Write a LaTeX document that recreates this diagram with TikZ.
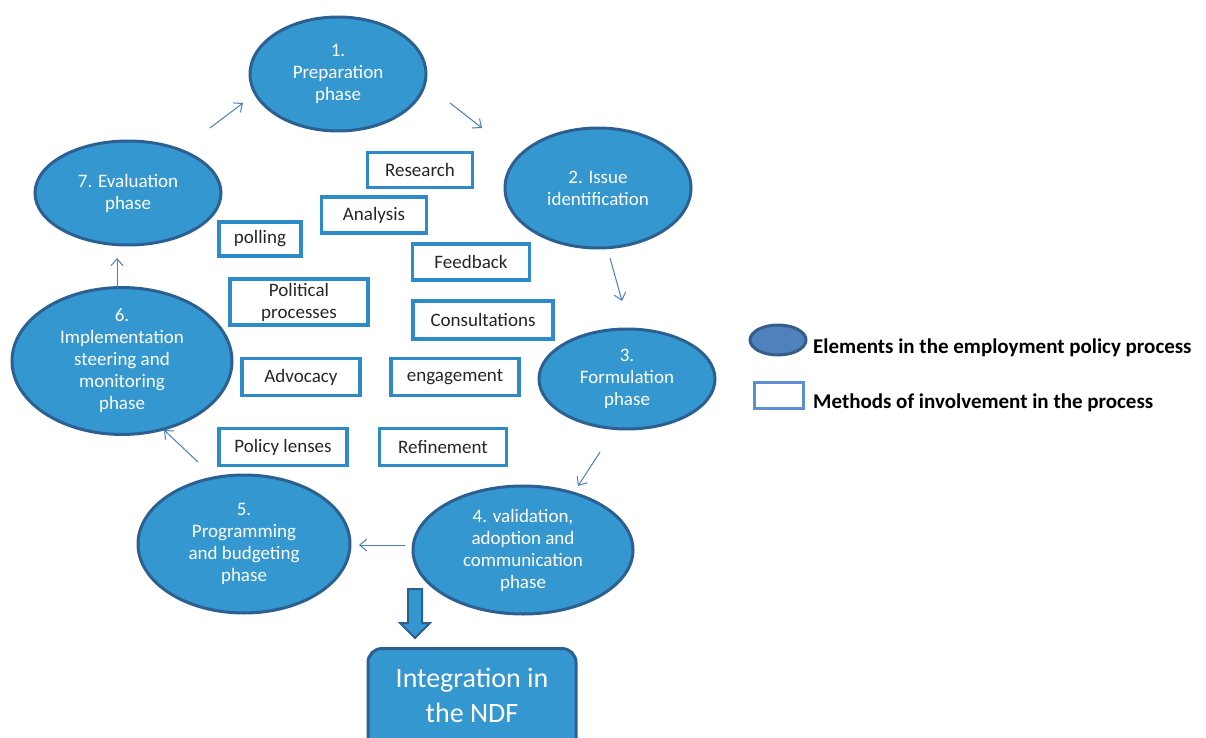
\documentclass[tikz,border=0pt]{standalone}
\usepackage{fontspec}
\setmainfont{Carlito}
\usetikzlibrary{shapes.geometric,arrows.meta}
\definecolor{efill}{RGB}{52,151,207}
\definecolor{edraw}{RGB}{44,95,146}
\definecolor{bdraw}{RGB}{46,139,201}
\definecolor{arrc}{RGB}{74,126,187}
\definecolor{lfill}{RGB}{79,129,189}
\definecolor{ldraw}{RGB}{56,93,138}
\definecolor{lbox}{RGB}{91,143,208}
\tikzset{
  phase/.style={ellipse, fill=efill, draw=edraw, line width=3pt, inner sep=0pt,
    text=white, align=center, font=\fontsize{19}{22}\selectfont},
  method/.style={rectangle, fill=white, draw=bdraw, line width=3.5pt, inner sep=0pt,
    text=black!85, align=center, font=\fontsize{19}{22}\selectfont},
  cyc/.style={draw=arrc, line width=1pt, -{Straight Barb[length=7pt,width=12pt]}},
  legtext/.style={anchor=west, font=\fontsize{21}{24}\selectfont\bfseries, inner sep=0pt}
}
\begin{document}
\begin{tikzpicture}[x=1pt,y=-1pt]
\useasboundingbox (0,0) rectangle (1206,738);
\clip (0,0) rectangle (1206,738);
% phases
\node[phase, minimum width=176, minimum height=114] (e1) at (338,74) {1.\\Preparation\\phase};
\node[phase, minimum width=186, minimum height=120] (e2) at (598,188) {2. Issue\\identification};
\node[phase, minimum width=176, minimum height=100] (e3) at (627,379) {3.\\Formulation\\phase};
\node[phase, minimum width=220, minimum height=128] (e4) at (523,550) {4. validation,\\adoption and\\communication\\phase};
\node[phase, minimum width=212, minimum height=138] (e5) at (244,544) {5.\\Programming\\and budgeting\\phase};
\node[phase, minimum width=220, minimum height=116] (e6) at (122,361) {6.\\Implementation\\steering and\\monitoring\\phase};
\node[phase, minimum width=186, minimum height=104] (e7) at (128,193) {7. Evaluation\\phase};
% methods
\node[method, minimum width=105, minimum height=35] (m1) at (420,170) {Research};
\node[method, minimum width=105, minimum height=36] (m2) at (374,215) {Analysis};
\node[method, minimum width=82, minimum height=34] (m3) at (260,239) {polling};
\node[method, minimum width=117, minimum height=36] (m4) at (471,262) {Feedback};
\node[method, minimum width=138, minimum height=46] (m5) at (299,302) {Political\\processes};
\node[method, minimum width=140, minimum height=38] (m6) at (483,320) {Consultations};
\node[method, minimum width=118, minimum height=37] (m7) at (301,377) {Advocacy};
\node[method, minimum width=128, minimum height=37] (m8) at (455,377) {engagement};
\node[method, minimum width=128, minimum height=37] (m9) at (283,447) {Policy lenses};
\node[method, minimum width=127, minimum height=37] (m10) at (443,447) {Refinement};
% cycle arrows
\coordinate (a1s) at (450,103); \coordinate (a1e) at (482,128);
\coordinate (a2s) at (610,258); \coordinate (a2e) at (622,301);
\coordinate (a3s) at (600,452); \coordinate (a3e) at (578,486);
\coordinate (a4s) at (405,545); \coordinate (a4e) at (359,545);
\coordinate (a5s) at (198,462); \coordinate (a5e) at (164,430);
\coordinate (a6s) at (117,290); \coordinate (a6e) at (117,258);
\coordinate (a7s) at (210,128); \coordinate (a7e) at (243,103);
\draw[cyc] (a1s) -- (a1e);
\draw[cyc] (a2s) -- (a2e);
\draw[cyc] (a3s) -- (a3e);
\draw[cyc] (a4s) -- (a4e);
\draw[cyc] (a5s) -- (a5e);
\draw[cyc] (a6s) -- (a6e);
\draw[cyc] (a7s) -- (a7e);
% integration
\node[rectangle, rounded corners=14pt, fill=efill, draw=edraw, line width=3pt,
  minimum width=208, minimum height=110, anchor=north] (ndf) at (472,647) {};
\node[text=white, align=center, font=\fontsize{28}{35}\selectfont] (ndft) at (472,695) {Integration in\\the NDF};
\draw[fill=efill, draw=edraw, line width=2pt, line join=miter]
  (408,589) -- (422,589) -- (422,623) -- (430,623) -- (415,638) -- (400,623) -- (408,623) -- cycle;
% legend
\node[ellipse, fill=lfill, draw=ldraw, line width=3pt, minimum width=56, minimum height=30, inner sep=0pt] (le) at (778,340) {};
\node[legtext] (lt1) at (813,348) {Elements in the employment policy process};
\node[rectangle, fill=white, draw=lbox, line width=3pt, minimum width=49, minimum height=26, inner sep=0pt] (lb) at (779,395) {};
\node[legtext] (lt2) at (813,403) {Methods of involvement in the process};
\end{tikzpicture}
\end{document}
